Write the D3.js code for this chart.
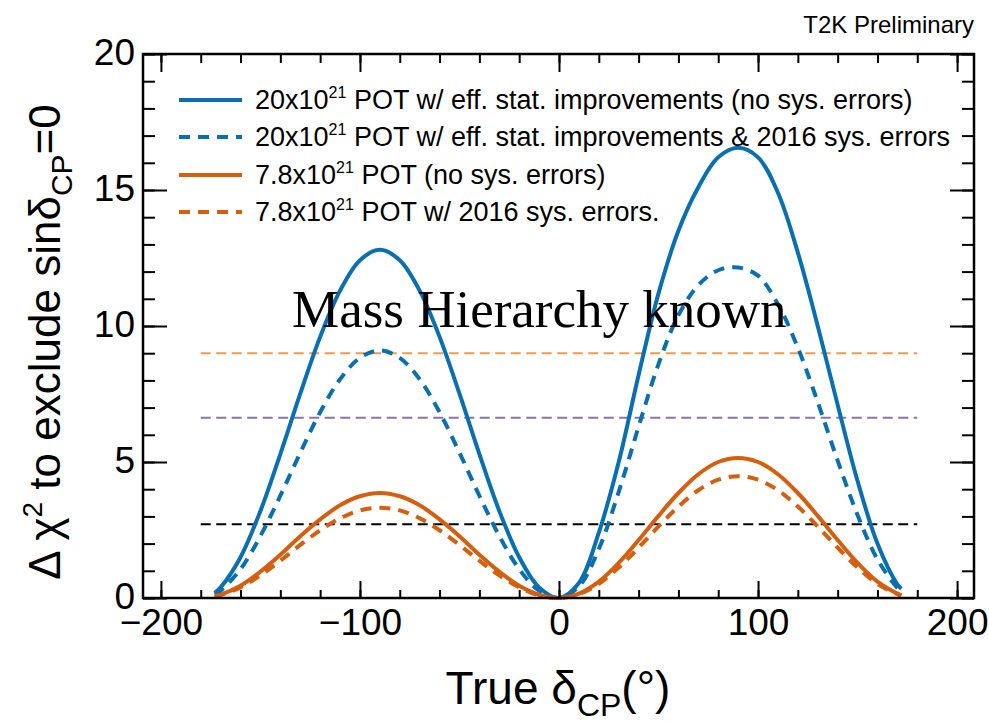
<!DOCTYPE html>
<html>
<head>
<meta charset="utf-8">
<script src="https://cdn.jsdelivr.net/npm/d3@7"></script>
<style>
  html, body { margin: 0; padding: 0; background: #fff; }
  svg { display: block; font-family: "Liberation Sans", Arial, Helvetica, sans-serif; }
</style>
</head>
<body>
<svg id="chart" width="989" height="722"></svg>
<script>
// True delta_CP grid (degrees)
const deltaCP = [-173, -170, -160, -150, -140, -130, -120, -110, -100, -90, -80, -70, -60, -50, -40, -30, -20, -10,
  0, 10, 20, 30, 40, 50, 60, 70, 80, 90, 100, 110, 120, 130, 140, 150, 160, 170, 172];

// Delta chi^2 to exclude sin(delta_CP)=0
const pot20NoSys = [0.19, 0.39, 1.50, 3.20, 5.29, 7.51, 9.60, 11.30, 12.42, 12.80, 12.42, 11.30, 9.60, 7.51, 5.29, 3.20, 1.50, 0.39,
  0, 0.55, 2.40, 5.00, 8.20, 11.20, 13.50, 15.10, 16.20, 16.55, 16.20, 14.90, 12.70, 10.00, 7.10, 4.30, 2.00, 0.50, 0.34];
const pot20Sys2016 = [0.14, 0.27, 1.06, 2.28, 3.76, 5.34, 6.83, 8.04, 8.83, 9.10, 8.83, 8.04, 6.83, 5.34, 3.76, 2.28, 1.06, 0.27,
  0, 0.42, 1.80, 3.90, 6.30, 8.60, 10.40, 11.50, 12.05, 12.15, 11.85, 10.80, 9.20, 7.20, 5.05, 3.05, 1.42, 0.37, 0.24];
const pot78NoSys = [0.06, 0.12, 0.45, 0.97, 1.59, 2.27, 2.89, 3.41, 3.74, 3.86, 3.74, 3.41, 2.89, 2.27, 1.59, 0.97, 0.45, 0.12,
  0, 0.16, 0.60, 1.29, 2.13, 3.02, 3.86, 4.55, 5.00, 5.15, 5.00, 4.55, 3.86, 3.02, 2.13, 1.29, 0.60, 0.16, 0.10];
const pot78Sys2016 = [0.05, 0.10, 0.39, 0.83, 1.37, 1.95, 2.49, 2.93, 3.22, 3.32, 3.22, 2.93, 2.49, 1.95, 1.37, 0.83, 0.39, 0.10,
  0, 0.14, 0.52, 1.12, 1.85, 2.63, 3.36, 3.96, 4.35, 4.48, 4.35, 3.96, 3.36, 2.63, 1.85, 1.12, 0.52, 0.14, 0.09];

// Reference significance levels (horizontal dashed lines)
const levelValues = [9.0, 6.63, 2.71];
const levelRange = [-180, 180];

// Axis ticks
const xMajorTicks = [-200, -100, 0, 100, 200];
const yMajorTicks = [0, 5, 10, 15, 20];

const series = [
  { values: pot20NoSys, color: "#0a6fb0", dash: null },
  { values: pot20Sys2016, color: "#0a6fb0", dash: "11,8" },
  { values: pot78NoSys, color: "#d35f0f", dash: null },
  { values: pot78Sys2016, color: "#d35f0f", dash: "11,8" }
];
const levelColors = ["#f59a48", "#8a74a8", "#000000"];

const svg = d3.select("#chart");
const plotLeft = 143, plotRight = 974, plotTop = 54, plotBottom = 598;

const x = d3.scaleLinear().domain([-209, 208.5]).range([plotLeft, plotRight]);
const y = d3.scaleLinear().domain([0, 20]).range([plotBottom, plotTop]);

const xMinor = d3.range(-200, 201, 20);
const yMinor = d3.range(0, 21, 1);

// Horizontal confidence lines
svg.append("g").selectAll("line").data(levelValues).join("line")
  .attr("x1", x(levelRange[0])).attr("x2", x(levelRange[1]))
  .attr("y1", d => y(d)).attr("y2", d => y(d))
  .attr("stroke", (d, i) => levelColors[i])
  .attr("stroke-width", 2)
  .attr("stroke-dasharray", "10,5.5");

// Curves
const line = d3.line()
  .x((d, i) => x(deltaCP[i]))
  .y(d => y(d))
  .curve(d3.curveCatmullRom.alpha(0.5));

svg.append("g").selectAll("path").data(series).join("path")
  .attr("d", d => line(d.values))
  .attr("fill", "none")
  .attr("stroke", d => d.color)
  .attr("stroke-width", 4)
  .attr("stroke-dasharray", d => d.dash);

// Axes: inward ticks on all four sides
function styleAxis(g) {
  g.select(".domain").remove();
  g.selectAll(".tick line").attr("stroke", "#000").attr("stroke-width", 2);
  g.selectAll("text").attr("fill", "#000").attr("font-size", 37)
    .attr("font-family", "'Liberation Sans', Arial, sans-serif");
}
svg.append("g").attr("transform", `translate(0,${plotBottom})`)
  .call(d3.axisBottom(x).tickValues(xMinor).tickSize(-8).tickFormat(""))
  .call(styleAxis);
svg.append("g").attr("transform", `translate(0,${plotBottom})`)
  .call(d3.axisBottom(x).tickValues(xMajorTicks).tickSize(-17).tickPadding(11))
  .call(styleAxis);
svg.append("g").attr("transform", `translate(0,${plotTop})`)
  .call(d3.axisTop(x).tickValues(xMinor).tickSize(-9).tickFormat(""))
  .call(styleAxis);
svg.append("g").attr("transform", `translate(0,${plotTop})`)
  .call(d3.axisTop(x).tickValues(xMajorTicks).tickSize(-18).tickFormat(""))
  .call(styleAxis);
svg.append("g").attr("transform", `translate(${plotLeft},0)`)
  .call(d3.axisLeft(y).tickValues(yMinor).tickSize(-12).tickFormat(""))
  .call(styleAxis);
const yAxisG = svg.append("g").attr("transform", `translate(${plotLeft},0)`)
  .call(d3.axisLeft(y).tickValues(yMajorTicks).tickSize(-24).tickPadding(8))
  .call(styleAxis);
yAxisG.selectAll("text").attr("dy", "0.28em");
svg.append("g").attr("transform", `translate(${plotRight},0)`)
  .call(d3.axisRight(y).tickValues(yMinor).tickSize(-12).tickFormat(""))
  .call(styleAxis);
svg.append("g").attr("transform", `translate(${plotRight},0)`)
  .call(d3.axisRight(y).tickValues(yMajorTicks).tickSize(-24).tickFormat(""))
  .call(styleAxis);

// Frame
svg.append("rect")
  .attr("x", plotLeft).attr("y", plotTop)
  .attr("width", plotRight - plotLeft).attr("height", plotBottom - plotTop)
  .attr("fill", "none").attr("stroke", "#000").attr("stroke-width", 2.5);

// Legend
const legendLabels = [
  ["20x10", "21", " POT w/ eff. stat. improvements (no sys. errors)"],
  ["20x10", "21", " POT w/ eff. stat. improvements & 2016 sys. errors"],
  ["7.8x10", "21", " POT (no sys. errors)"],
  ["7.8x10", "21", " POT w/ 2016 sys. errors."]
];
const legendY = [100, 137, 175, 212];
const lg = svg.append("g");
series.forEach((s, i) => {
  lg.append("line")
    .attr("x1", 179).attr("x2", 242)
    .attr("y1", legendY[i]).attr("y2", legendY[i])
    .attr("stroke", s.color).attr("stroke-width", 4)
    .attr("stroke-dasharray", s.dash);
  const t = lg.append("text")
    .attr("x", 255).attr("y", legendY[i] + 9)
    .attr("font-size", 27).attr("fill", "#000");
  t.append("tspan").text(legendLabels[i][0]);
  t.append("tspan").attr("font-size", 16).attr("dy", -11).text(legendLabels[i][1]);
  t.append("tspan").attr("dy", 11).text(legendLabels[i][2]);
});

// Annotation
svg.append("text")
  .attr("x", 292).attr("y", 327)
  .attr("font-family", "'Liberation Serif', 'Times New Roman', serif")
  .attr("font-size", 53)
  .attr("fill", "#000")
  .text("Mass Hierarchy known");

svg.append("text")
  .attr("x", 974).attr("y", 33)
  .attr("text-anchor", "end")
  .attr("font-size", 24)
  .attr("fill", "#000")
  .text("T2K Preliminary");

// Axis titles
const xt = svg.append("text")
  .attr("x", 558).attr("y", 704)
  .attr("text-anchor", "middle")
  .attr("font-size", 46).attr("fill", "#000");
xt.append("tspan").text("True δ");
xt.append("tspan").attr("font-size", 32).attr("dy", 12).text("CP");
xt.append("tspan").attr("dy", -12).text("(°)");

const yt = svg.append("text")
  .attr("transform", "translate(60,342) rotate(-90)")
  .attr("text-anchor", "middle")
  .attr("font-size", 44).attr("fill", "#000");
yt.append("tspan").text("Δ χ");
yt.append("tspan").attr("font-size", 28).attr("dy", -18).text("2");
yt.append("tspan").attr("dy", 18).text(" to exclude sinδ");
yt.append("tspan").attr("font-size", 30).attr("dy", 12).text("CP");
yt.append("tspan").attr("dy", -12).text("=0");
</script>
</body>
</html>
